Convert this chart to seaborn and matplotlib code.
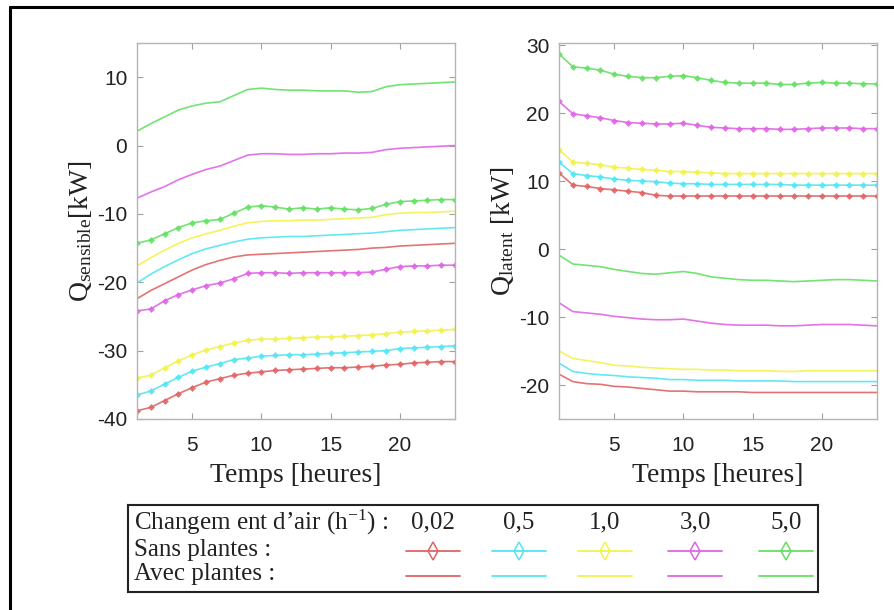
import numpy as np
import pandas as pd
import matplotlib
matplotlib.use("Agg")
import matplotlib.pyplot as plt
from matplotlib.lines import Line2D
import seaborn as sns

# ---- data -------------------------------------------------------------
heures = list(range(1, 25))
taux = ["0,02", "0,5", "1,0", "3,0", "5,0"]

# Sensible load [kW], without plants (markers)
sens_sans_002 = [-38.8, -38.3, -37.3, -36.3, -35.4, -34.6, -34.1, -33.6, -33.3, -33.1, -32.9, -32.8,
                 -32.7, -32.6, -32.5, -32.5, -32.4, -32.3, -32.1, -32.0, -31.8, -31.7, -31.6, -31.6]
sens_sans_05 = [-36.5, -35.9, -34.9, -33.9, -33.0, -32.4, -31.9, -31.3, -31.1, -30.8, -30.7, -30.6,
                -30.6, -30.5, -30.4, -30.3, -30.2, -30.1, -30.0, -29.7, -29.6, -29.5, -29.4, -29.3]
sens_sans_10 = [-34.0, -33.6, -32.5, -31.5, -30.6, -29.9, -29.4, -28.9, -28.5, -28.3, -28.3, -28.2,
                -28.1, -28.0, -28.0, -27.9, -27.8, -27.7, -27.5, -27.3, -27.2, -27.1, -27.0, -26.9]
sens_sans_30 = [-24.2, -23.9, -22.7, -21.8, -21.1, -20.5, -20.1, -19.5, -18.7, -18.6, -18.6, -18.7,
                -18.6, -18.6, -18.6, -18.6, -18.6, -18.5, -18.1, -17.7, -17.6, -17.6, -17.5, -17.5]
sens_sans_50 = [-14.3, -13.8, -12.9, -12.0, -11.3, -11.0, -10.8, -9.9, -9.0, -8.8, -9.0, -9.3,
                -9.1, -9.3, -9.1, -9.3, -9.4, -9.2, -8.6, -8.2, -8.1, -8.0, -7.9, -7.9]

# Sensible load [kW], with plants
sens_avec_002 = [-22.4, -21.2, -20.2, -19.2, -18.2, -17.4, -16.8, -16.3, -16.0, -15.9, -15.8, -15.7,
                 -15.6, -15.5, -15.4, -15.3, -15.2, -15.0, -14.9, -14.7, -14.6, -14.5, -14.4, -14.3]
sens_avec_05 = [-20.1, -18.8, -17.7, -16.7, -15.8, -15.1, -14.6, -14.1, -13.7, -13.5, -13.4, -13.3,
                -13.3, -13.2, -13.1, -13.0, -12.9, -12.8, -12.6, -12.4, -12.3, -12.2, -12.1, -12.0]
sens_avec_10 = [-17.6, -16.4, -15.3, -14.3, -13.5, -12.9, -12.4, -11.8, -11.3, -11.1, -11.0, -11.0,
                -10.9, -10.9, -10.8, -10.7, -10.6, -10.5, -10.1, -9.9, -9.8, -9.8, -9.7, -9.6]
sens_avec_30 = [-7.7, -6.8, -6.0, -5.0, -4.2, -3.5, -3.0, -2.2, -1.4, -1.2, -1.2, -1.3,
                -1.3, -1.2, -1.2, -1.1, -1.1, -1.0, -0.6, -0.4, -0.3, -0.2, -0.1, 0.0]
sens_avec_50 = [2.1, 3.2, 4.2, 5.2, 5.8, 6.2, 6.4, 7.3, 8.2, 8.4, 8.2, 8.1,
                8.1, 8.0, 8.0, 8.0, 7.8, 7.9, 8.6, 8.9, 9.0, 9.1, 9.2, 9.3]

# Latent load [kW], without plants (markers)
lat_sans_002 = [11.2, 9.4, 9.2, 8.9, 8.7, 8.5, 8.3, 7.9, 7.8, 7.8, 7.8, 7.8,
                7.8, 7.8, 7.8, 7.8, 7.8, 7.8, 7.8, 7.8, 7.8, 7.8, 7.8, 7.8]
lat_sans_05 = [12.8, 11.1, 10.8, 10.6, 10.3, 10.1, 10.0, 9.9, 9.7, 9.6, 9.6, 9.5,
               9.5, 9.5, 9.5, 9.5, 9.5, 9.4, 9.4, 9.4, 9.4, 9.4, 9.4, 9.4]
lat_sans_10 = [14.6, 12.8, 12.6, 12.4, 12.0, 11.9, 11.7, 11.6, 11.4, 11.4, 11.3, 11.2,
               11.1, 11.1, 11.1, 11.1, 11.1, 11.1, 11.1, 11.1, 11.1, 11.1, 11.1, 11.1]
lat_sans_30 = [21.7, 19.9, 19.6, 19.3, 18.9, 18.6, 18.5, 18.4, 18.4, 18.5, 18.2, 17.9,
               17.8, 17.7, 17.7, 17.7, 17.6, 17.6, 17.7, 17.8, 17.8, 17.8, 17.7, 17.7]
lat_sans_50 = [28.7, 26.8, 26.6, 26.3, 25.7, 25.4, 25.2, 25.2, 25.4, 25.5, 25.2, 24.8,
               24.5, 24.4, 24.4, 24.4, 24.2, 24.2, 24.4, 24.5, 24.4, 24.4, 24.3, 24.3]

# Latent load [kW], with plants
lat_avec_002 = [-18.4, -19.5, -19.8, -19.9, -20.2, -20.3, -20.5, -20.7, -20.9, -20.9, -21.0, -21.0,
                -21.0, -21.0, -21.1, -21.1, -21.1, -21.1, -21.1, -21.1, -21.1, -21.1, -21.1, -21.1]
lat_avec_05 = [-16.8, -18.0, -18.3, -18.5, -18.6, -18.8, -18.9, -19.0, -19.2, -19.2, -19.3, -19.3,
               -19.3, -19.4, -19.4, -19.4, -19.4, -19.5, -19.5, -19.5, -19.5, -19.5, -19.5, -19.5]
lat_avec_10 = [-15.0, -16.1, -16.4, -16.7, -17.1, -17.2, -17.4, -17.5, -17.6, -17.7, -17.7, -17.8,
               -17.8, -17.9, -17.9, -17.9, -18.0, -18.0, -17.9, -17.9, -17.9, -17.9, -17.9, -17.9]
lat_avec_30 = [-7.9, -9.2, -9.4, -9.6, -9.9, -10.1, -10.3, -10.4, -10.4, -10.3, -10.6, -10.9,
               -11.1, -11.2, -11.2, -11.2, -11.3, -11.3, -11.2, -11.1, -11.1, -11.1, -11.2, -11.3]
lat_avec_50 = [-0.9, -2.2, -2.4, -2.6, -3.0, -3.3, -3.6, -3.7, -3.5, -3.3, -3.6, -4.1,
               -4.3, -4.5, -4.6, -4.6, -4.7, -4.8, -4.7, -4.6, -4.5, -4.5, -4.6, -4.7]

couleurs = ["#e06464", "#52e6f2", "#f2f24e", "#e064e6", "#64e064"]

# ---- long-form table ---------------------------------------------------
series = {
    ("sensible", "Sans plantes"): [sens_sans_002, sens_sans_05, sens_sans_10, sens_sans_30, sens_sans_50],
    ("sensible", "Avec plantes"): [sens_avec_002, sens_avec_05, sens_avec_10, sens_avec_30, sens_avec_50],
    ("latent", "Sans plantes"): [lat_sans_002, lat_sans_05, lat_sans_10, lat_sans_30, lat_sans_50],
    ("latent", "Avec plantes"): [lat_avec_002, lat_avec_05, lat_avec_10, lat_avec_30, lat_avec_50],
}
rows = []
for (charge, cas), valeurs in series.items():
    for t, v in zip(taux, valeurs):
        for h, q in zip(heures, v):
            rows.append({"charge": charge, "cas": cas, "taux": t, "heure": h, "Q": q})
df = pd.DataFrame(rows)

# ---- style -------------------------------------------------------------
sns.set_theme(style="white")
plt.rcParams["font.family"] = ["Liberation Sans", "DejaVu Sans"]
plt.rcParams["axes.unicode_minus"] = False
plt.rcParams["mathtext.fontset"] = "custom"
plt.rcParams["mathtext.rm"] = "Liberation Serif"
plt.rcParams["mathtext.it"] = "Liberation Serif:italic"
serif = ["Liberation Serif", "DejaVu Serif"]
palette = dict(zip(taux, couleurs))

W, H = 895, 610
fig = plt.figure(figsize=(W / 100, H / 100), dpi=100)
fig.patch.set_facecolor("white")


def px_axes(x0, y0, x1, y1):
    return fig.add_axes([x0 / W, 1 - y1 / H, (x1 - x0) / W, (y1 - y0) / H])


ax_s = px_axes(137, 43, 455, 419)
ax_l = px_axes(559, 43, 877, 419)

for ax, charge in [(ax_s, "sensible"), (ax_l, "latent")]:
    sub = df[df["charge"] == charge]
    sns.lineplot(data=sub[sub["cas"] == "Avec plantes"], x="heure", y="Q", hue="taux",
                 hue_order=taux, palette=palette, errorbar=None, legend=False,
                 linewidth=1.2, alpha=0.9, ax=ax)
    sns.lineplot(data=sub[sub["cas"] == "Sans plantes"], x="heure", y="Q", hue="taux",
                 hue_order=taux, palette=palette, errorbar=None, legend=False,
                 linewidth=1.2, alpha=0.9, marker="D", markersize=3.5,
                 markeredgewidth=0, ax=ax)
    ax.set_xlim(1, 24)
    ax.set_xticks([5, 10, 15, 20])
    for sp in ax.spines.values():
        sp.set_color("#b4b4b4")
        sp.set_linewidth(1.0)
    ax.tick_params(direction="in", length=4, width=0.8, color="#a0a0a0",
                   top=True, right=True, bottom=True, left=True,
                   labelsize=15, labelcolor="#222222", pad=7)
    ax.tick_params(axis="x", pad=12)
    ax.set_xlabel("Temps [heures]", family=serif, fontsize=20, color="#222222", labelpad=6)

ax_s.set_ylim(-40, 15)
ax_s.set_yticks([-40, -30, -20, -10, 0, 10])
ax_s.set_ylabel(r"Q$_{\mathrm{sensible}}$[kW]", family=serif, fontsize=20,
                color="#222222", labelpad=2)

ax_l.set_ylim(-25, 30.3)
ax_l.set_yticks([-20, -10, 0, 10, 20, 30])
ax_l.set_ylabel(r"Q$_{\mathrm{latent}}$ [kW]", family=serif, fontsize=20,
                color="#222222", labelpad=2)

# ---- outer frame -------------------------------------------------------
fig.add_artist(Line2D([10 / W, 10 / W], [0, 1 - 7 / H], transform=fig.transFigure,
                      color="black", linewidth=2.2))
fig.add_artist(Line2D([10 / W, 1], [1 - 7 / H, 1 - 7 / H], transform=fig.transFigure,
                      color="black", linewidth=2.2))

# ---- key table ---------------------------------------------------------
kx0, ky0, kx1, ky1 = 128, 505, 818, 592
ax_k = px_axes(kx0, ky0, kx1, ky1)
ax_k.set_xlim(kx0, kx1)
ax_k.set_ylim(ky1, ky0)
ax_k.set_xticks([])
ax_k.set_yticks([])
for sp in ax_k.spines.values():
    sp.set_color("#222222")
    sp.set_linewidth(1.5)

txt_kw = dict(family=serif, fontsize=18, color="#222222", va="center")
ax_k.text(134, 522, r"Changem ent d’air (h$^{\mathrm{-1}}$) :", ha="left", **txt_kw)
ax_k.text(134, 550, "Sans plantes :", ha="left", **txt_kw)
ax_k.text(134, 574, "Avec plantes :", ha="left", **txt_kw)

centres = [433, 519, 605, 695, 786]
for t, c, col in zip(taux, centres, couleurs):
    ax_k.text(c, 522, t, ha="center", **txt_kw)
    ax_k.plot([c - 27, c + 27], [551, 551], color=col, linewidth=1.3)
    ax_k.plot([c], [551], marker="d", markersize=9, fillstyle="none",
              markeredgewidth=1.1, color=col)
    ax_k.plot([c - 27, c + 27], [576, 576], color=col, linewidth=1.3)

fig.savefig("out.png", dpi=100, facecolor="white")
